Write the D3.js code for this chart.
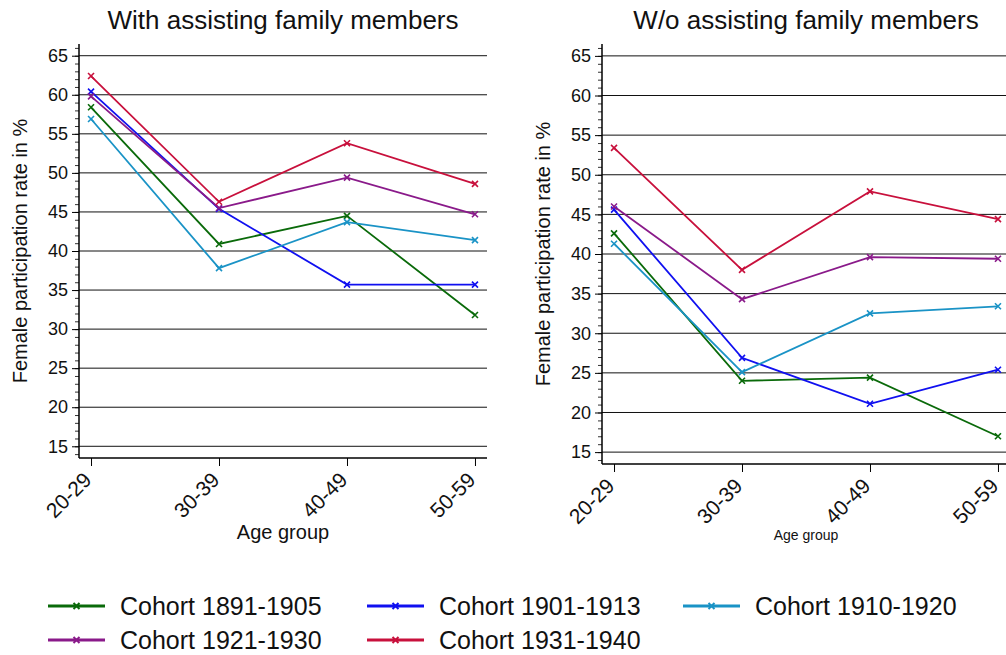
<!DOCTYPE html>
<html>
<head>
<meta charset="utf-8">
<script src="https://cdn.jsdelivr.net/npm/d3@7"></script>
<style>
  body { margin: 0; background: #fff; }
  svg { display: block; font-family: "Liberation Sans", Arial, sans-serif; }
</style>
</head>
<body>
<svg id="chart" width="1006" height="655"></svg>
<script>
// Female participation by age group and birth cohort

const ageGroups = ['20-29', '30-39', '40-49', '50-59'];
const cohorts = ['Cohort 1891-1905', 'Cohort 1901-1913', 'Cohort 1910-1920', 'Cohort 1921-1930', 'Cohort 1931-1940'];
const cohortColors = ['#0a6a0a', '#1010f0', '#1a93c6', '#8a1a8a', '#c8103c'];
const yTicks = [15, 20, 25, 30, 35, 40, 45, 50, 55, 60, 65];

// with assisting family members
const withFamily = [
    [58.4, 40.9, 44.5, 31.8],
    [60.4, 45.4, 35.7, 35.7],
    [56.9, 37.8, 43.7, 41.4],
    [59.8, 45.5, 49.4, 44.7],
    [62.4, 46.3, 53.8, 48.6],
];

// without assisting family members
const withoutFamily = [
    [42.6, 24.0, 24.4, 17.0],
    [45.6, 26.9, 21.1, 25.4],
    [41.3, 25.1, 32.5, 33.4],
    [46.0, 34.3, 39.6, 39.4],
    [53.4, 38.0, 47.9, 44.4],
];

const svg = d3.select('#chart');

function drawPanel(cfg) {
    const g = svg.append('g');

    const x = d3.scalePoint()
        .domain(ageGroups)
        .range([cfg.left, cfg.right])
        .padding(0.094);

    const y = d3.scaleLinear()
        .domain([13.5, 66.5])
        .range([cfg.bottom, cfg.top]);

    // Gridlines
    g.append('g')
        .selectAll('line')
        .data(yTicks)
        .join('line')
        .attr('x1', cfg.left)
        .attr('x2', cfg.right)
        .attr('y1', d => y(d))
        .attr('y2', d => y(d))
        .attr('stroke', '#111')
        .attr('stroke-width', 1);

    // Y axis with minor ticks
    const yAxis = g.append('g')
        .attr('transform', `translate(${cfg.left},0)`)
        .call(d3.axisLeft(y).tickValues(d3.range(14, 67, 1)).tickSize(4).tickFormat(''));
    yAxis.select('.domain').remove();
    yAxis.selectAll('line').attr('stroke', '#333');

    const yMajor = g.append('g')
        .attr('transform', `translate(${cfg.left},0)`)
        .call(d3.axisLeft(y).tickValues(yTicks).tickSize(7).tickPadding(4));
    yMajor.select('.domain').remove();
    yMajor.selectAll('line').attr('stroke', '#000');
    yMajor.selectAll('text')
        .attr('font-size', '18px')
        .attr('fill', '#111')
        .attr('font-family', '"Liberation Sans", Arial, sans-serif');

    g.append('line')
        .attr('x1', cfg.left).attr('x2', cfg.left)
        .attr('y1', cfg.top).attr('y2', cfg.bottom)
        .attr('stroke', '#000').attr('stroke-width', 1.5);

    // X axis
    const xAxis = g.append('g')
        .attr('transform', `translate(0,${cfg.bottom})`)
        .call(d3.axisBottom(x).tickSize(8));
    xAxis.select('.domain')
        .attr('d', `M${cfg.left},0H${cfg.right}`)
        .attr('stroke', '#000')
        .attr('stroke-width', 1.5);
    xAxis.selectAll('.tick line').attr('stroke', '#000');
    xAxis.selectAll('text')
        .attr('x', 0)
        .attr('y', 0)
        .attr('dy', '0.35em')
        .attr('font-size', '21px')
        .attr('fill', '#111')
        .attr('font-family', '"Liberation Sans", Arial, sans-serif')
        .attr('text-anchor', 'end')
        .attr('transform', 'translate(-4,18) rotate(-45)');

    // Series
    const line = d3.line()
        .x((d, i) => x(ageGroups[i]))
        .y(d => y(d));

    cfg.data.forEach((vals, k) => {
        const s = g.append('g');
        s.append('path')
            .datum(vals)
            .attr('d', line)
            .attr('fill', 'none')
            .attr('stroke', cohortColors[k])
            .attr('stroke-width', 1.8);
        s.selectAll('path.mk')
            .data(vals)
            .join('path')
            .attr('class', 'mk')
            .attr('d', 'M-3,-3L3,3M-3,3L3,-3')
            .attr('transform', (d, i) => `translate(${x(ageGroups[i])},${y(d)})`)
            .attr('stroke', cohortColors[k])
            .attr('stroke-width', 1.6);
    });

    // Titles
    const cx = (cfg.left + cfg.right) / 2;
    svg.append('text')
        .attr('x', cx)
        .attr('y', 29)
        .attr('text-anchor', 'middle')
        .attr('font-size', '26px')
        .attr('fill', '#111')
        .text(cfg.title);

    svg.append('text')
        .attr('transform', `translate(${cfg.yLabelX},${(cfg.top + cfg.bottom) / 2}) rotate(-90)`)
        .attr('text-anchor', 'middle')
        .attr('font-size', '20px')
        .attr('fill', '#111')
        .text('Female participation rate in %');

    svg.append('text')
        .attr('x', cx)
        .attr('y', cfg.xLabelY)
        .attr('text-anchor', 'middle')
        .attr('font-size', cfg.xLabelSize)
        .attr('fill', '#111')
        .text('Age group');
}

drawPanel({
    title: 'With assisting family members',
    data: withFamily,
    left: 79, right: 487, top: 44, bottom: 458,
    yLabelX: 27, xLabelY: 539, xLabelSize: '20px'
});

drawPanel({
    title: 'W/o assisting family members',
    data: withoutFamily,
    left: 602, right: 1010, top: 44, bottom: 464,
    yLabelX: 550, xLabelY: 540, xLabelSize: '14px'
});

// Legend
const legendPos = [
    [48, 606], [367, 606], [683, 606],
    [48, 640], [367, 640]
];
const legend = svg.append('g');
cohorts.forEach((name, k) => {
    const [lx, ly] = legendPos[k];
    const item = legend.append('g').attr('transform', `translate(${lx},${ly})`);
    item.append('line')
        .attr('x1', 0).attr('x2', 57)
        .attr('y1', 0).attr('y2', 0)
        .attr('stroke', cohortColors[k])
        .attr('stroke-width', 3);
    item.append('path')
        .attr('d', 'M25.5,-3L31.5,3M25.5,3L31.5,-3')
        .attr('stroke', cohortColors[k])
        .attr('stroke-width', 2);
    item.append('text')
        .attr('x', 72)
        .attr('y', 0)
        .attr('dy', '0.35em')
        .attr('font-size', '25px')
        .attr('fill', '#111')
        .text(name);
});
</script>
</body>
</html>
